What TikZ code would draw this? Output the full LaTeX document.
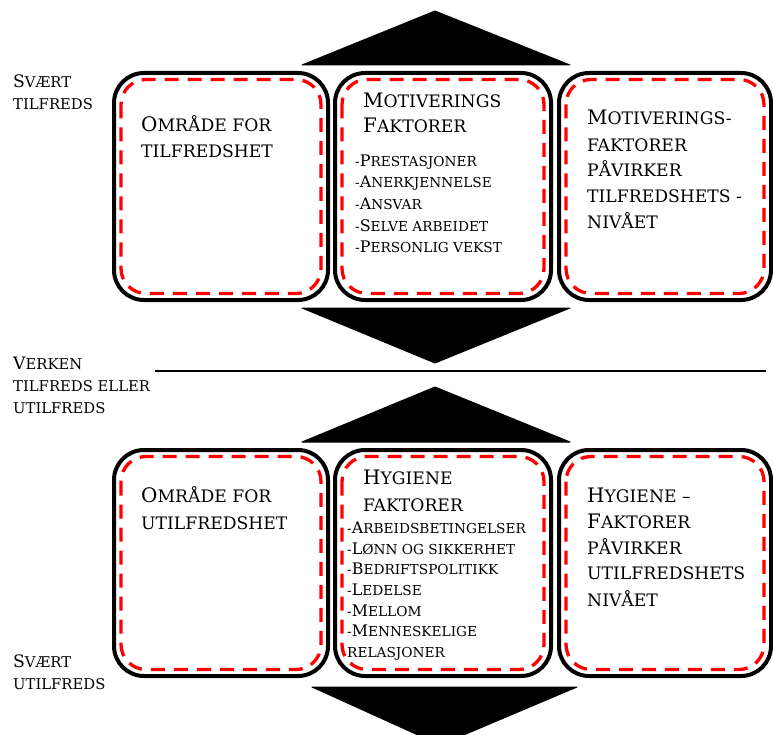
\documentclass[tikz,border=0pt]{standalone}
\usepackage{fontspec}
\usetikzlibrary{calc}
\newfontfamily\cpfont[Ligatures=TeX]{DejaVu Serif}
% capital text at a given size; \B raises one letter to the full capital size
\newcommand\capsz[1]{\fontsize{#1}{#1}\selectfont\cpfont}
\newcommand\B[1]{\scalebox{1.16}{#1}}
\begin{document}
\begin{tikzpicture}[x=1pt,y=-1pt,
  frame/.style={draw=black, line width=4pt, rounded corners=30pt, rectangle,
                inner sep=0pt, minimum height=227pt},
  redline/.style={draw=red, line width=3.3pt, dash pattern=on 14pt off 9pt,
                  rounded corners=25pt},
  wedge/.style={fill=black, draw=black, line width=1pt, line join=round},
  txt/.style={anchor=base west, inner sep=0pt, text=black},
  side/.style={txt, font=\capsz{14.8}},
  title/.style={txt, font=\capsz{17.2}},
  item/.style={txt, font=\capsz{13.7}},
]
\useasboundingbox (0,0) rectangle (773,735);
\clip (0,0) rectangle (773,735);

% arrow heads
\fill[wedge] (302,65) -- (435,11) -- (570,65) -- cycle;
\fill[wedge] (302,308) -- (435,363) -- (570,308) -- cycle;
\fill[wedge] (302,442) -- (435,387) -- (570,442) -- cycle;
\fill[wedge] (312,687) -- (440,745) -- (577,687) -- cycle;

% neutral line
\coordinate (m1) at (155,371);
\coordinate (m2) at (766,371);
\draw[line width=2pt] (m1) -- (m2);

% upper row of boxes
\node[frame, minimum width=214pt] (s1) at (221,186.5) {};
\node[frame, minimum width=216pt] (s2) at (443,186.5) {};
\node[frame, minimum width=212pt] (s3) at (665,186.5) {};
% lower row of boxes
\node[frame, minimum width=214pt, minimum height=226pt] (h1) at (221,563) {};
\node[frame, minimum width=216pt, minimum height=226pt] (h2) at (443,563) {};
\node[frame, minimum width=212pt, minimum height=226pt] (h3) at (665,563) {};

\foreach \b in {s1,s2,s3,h1,h2,h3}
  \draw[redline] ($(\b.north west)+(9,8.5)$) rectangle ($(\b.south east)+(-9,-8.5)$);

% side labels
\foreach \t/\yy [count=\i] in {\B{S}VÆRT/88, TILFREDS/110}
  \node[side, name=la\i] at (13,\yy) {\t};
\foreach \t/\yy [count=\i] in {\B{V}ERKEN/369, TILFREDS ELLER/391, UTILFREDS/413}
  \node[side, name=lb\i] at (13,\yy) {\t};
\foreach \t/\yy [count=\i] in {\B{S}VÆRT/667, UTILFREDS/689}
  \node[side, name=lc\i] at (13,\yy) {\t};

% upper row texts
\foreach \t/\yy [count=\i] in {\B{O}MRÅDE FOR/132, TILFREDSHET/158}
  \node[title, name=ta\i] at (141,\yy) {\t};
\foreach \t/\yy [count=\i] in {\B{M}OTIVERINGS/108, \B{F}AKTORER/133}
  \node[title, name=tb\i] at (363,\yy) {\t};
\foreach \t/\yy [count=\i] in {-\B{P}RESTASJONER/167, -\B{A}NERKJENNELSE/188, -\B{A}NSVAR/210,
    -\B{S}ELVE ARBEIDET/232, -\B{P}ERSONLIG VEKST/253}
  \node[item, name=tc\i] at (355,\yy) {\t};
\foreach \t/\yy [count=\i] in {\B{M}OTIVERINGS-/125, FAKTORER/152, PÅVIRKER/177,
    TILFREDSHETS -/203, NIVÅET/229}
  \node[title, name=td\i] at (587,\yy) {\t};

% lower row texts
\foreach \t/\yy [count=\i] in {\B{O}MRÅDE FOR/502, UTILFREDSHET/529}
  \node[title, name=ua\i] at (141,\yy) {\t};
\foreach \t/\yy [count=\i] in {\B{H}YGIENE/484, FAKTORER/511}
  \node[title, name=ub\i] at (363,\yy) {\t};
\foreach \t/\yy [count=\i] in {-\B{A}RBEIDSBETINGELSER/533, -\B{L}ØNN OG SIKKERHET/554,
    -\B{B}EDRIFTSPOLITIKK/574, -\B{L}EDELSE/595, -\B{M}ELLOM/616, -\B{M}ENNESKELIGE/636,
    RELASJONER/657}
  \node[item, name=uc\i] at (347,\yy) {\t};
\foreach \t/\yy [count=\i] in {\B{H}YGIENE –/502, \B{F}AKTORER/528, PÅVIRKER/554,
    UTILFREDSHETS/579, NIVÅET/606}
  \node[title, name=ud\i] at (587,\yy) {\t};
\end{tikzpicture}
\end{document}
